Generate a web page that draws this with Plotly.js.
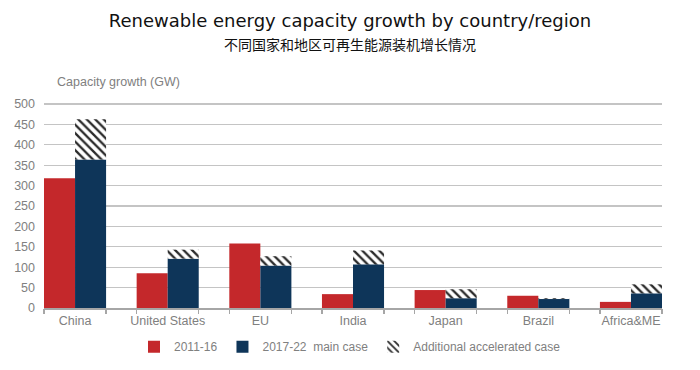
<!DOCTYPE html>
<html><head><meta charset="utf-8">
<script src="https://cdn.plot.ly/plotly-3.0.1.min.js"></script>
<style>html,body{margin:0;padding:0;background:#fff;}#chart{width:700px;height:370px;}</style>
</head><body><div id="chart"></div>
<script>
const categories = ["China", "United States", "EU", "India", "Japan", "Brazil", "Africa&ME"];
const hist2011_16 = [318, 85, 158, 34, 44, 30, 15];
const main2017_22 = [364, 121, 104, 107, 24, 22, 36];
const accelAdditional = [99, 22, 23, 34, 22, 2, 22];
const yTicks = [0, 50, 100, 150, 200, 250, 300, 350, 400, 450, 500];

const half = 0.335;
const edgeTicks = [];
categories.forEach((c, i) => { edgeTicks.push(i - half, i + half); });

const gray = '#808080';
const font = {family: 'Liberation Sans, Arial, sans-serif', size: 12.5, color: gray};
const legendFont = {family: 'Liberation Sans, Arial, sans-serif', size: 12, color: gray};

const traces = [
  {type: 'bar', name: '2011-16', x: categories, y: hist2011_16, offsetgroup: 'a',
   marker: {color: '#C4282B', line: {width: 0}}},
  {type: 'bar', name: '2017-22  main case', x: categories, y: main2017_22, offsetgroup: 'b',
   marker: {color: '#0E3559', line: {width: 0}}},
  {type: 'bar', name: 'Additional accelerated case', x: categories, y: accelAdditional, base: main2017_22, offsetgroup: 'b',
   marker: {color: 'white', line: {width: 0},
            pattern: {shape: '\\', fgcolor: '#2a2a2a', bgcolor: 'white', size: 6, solidity: 0.38}}},
  {type: 'scatter', x: [edgeTicks[0]], y: [0], xaxis: 'x2', mode: 'markers', marker: {opacity: 0}, showlegend: false, hoverinfo: 'skip'}
];

const layout = {
  width: 700, height: 370,
  margin: {l: 44, r: 38, t: 102, b: 62},
  paper_bgcolor: 'white', plot_bgcolor: 'white',
  barmode: 'group', bargap: 0.33, bargroupgap: 0,
  font: font,
  title: {text: 'Renewable energy capacity growth by country/region<br><span style="font-size:14px;font-family:Noto Sans CJK SC">不同国家和地区可再生能源装机增长情况</span>',
          font: {family: 'DejaVu Sans, sans-serif', size: 18, color: '#111'},
          x: 0.5, xanchor: 'center', y: 0.928, yanchor: 'top', yref: 'container', automargin: false},
  xaxis: {type: 'category', range: [-half, categories.length - 1 + half], showgrid: false,
          showline: true, linecolor: '#a6a6a6', linewidth: 1.5, ticks: '', tickfont: font, zeroline: false},
  xaxis2: {overlaying: 'x', range: [-half, categories.length - 1 + half], tickvals: edgeTicks, showticklabels: false,
           ticks: 'outside', ticklen: 5, tickcolor: '#a6a6a6', tickwidth: 1.5, showgrid: false, zeroline: false, side: 'bottom'},
  yaxis: {range: [0, 505], tickvals: yTicks, showgrid: true, gridcolor: '#c4c4c4', gridwidth: 1.3,
          zeroline: false, ticks: '', tickfont: font, ticklabelstandoff: 8, automargin: false},
  legend: {orientation: 'h', x: 0.5, xanchor: 'center', xref: 'container', y: 0.102, yanchor: 'top', yref: 'container',
           font: legendFont, traceorder: 'normal', itemwidth: 30},
  annotations: [{text: 'Capacity growth (GW)', xref: 'paper', yref: 'paper', x: 0.017, y: 1.053,
                 xanchor: 'left', yanchor: 'bottom', showarrow: false, font: font}],
  showlegend: true
};

Plotly.newPlot('chart', traces, layout, {displayModeBar: false, staticPlot: true});
</script></body></html>
